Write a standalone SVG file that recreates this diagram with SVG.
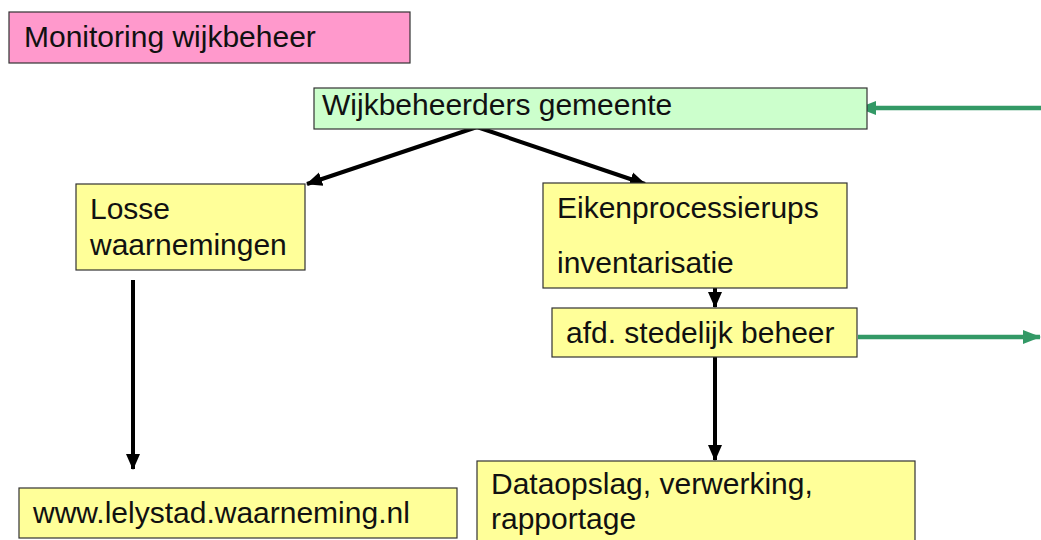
<svg xmlns="http://www.w3.org/2000/svg" width="1041" height="540" viewBox="0 0 1041 540">
  <defs>
    <marker id="ahBlack" markerUnits="userSpaceOnUse" markerWidth="16" markerHeight="16" viewBox="0 0 16 16" refX="15" refY="8" orient="auto">
      <path d="M0,1 L16,8 L0,15 Z" fill="#000"/>
    </marker>
    <marker id="ahGreen" markerUnits="userSpaceOnUse" markerWidth="18" markerHeight="18" viewBox="0 0 18 18" refX="17" refY="9" orient="auto">
      <path d="M0,2 L18,9 L0,16 Z" fill="#339966"/>
    </marker>
  </defs>
  <style>
    .box { stroke: #333; stroke-width: 1.2; }
    .pink { fill: #FF99CC; }
    .green { fill: #CCFFCC; }
    .yellow { fill: #FFFF99; }
    .t { font-family: "Liberation Sans", Arial, sans-serif; font-size: 30px; fill: #111; }
    .blk { stroke: #000; stroke-width: 4; fill: none; marker-end: url(#ahBlack); }
    .grn { stroke: #339966; stroke-width: 4.5; fill: none; marker-end: url(#ahGreen); }
  </style>
  <rect width="1041" height="540" fill="#fff"/>

  <g id="connectors">
    <line class="blk" x1="477" y1="127" x2="307" y2="184"/>
    <line class="blk" x1="477" y1="127" x2="645" y2="184"/>
    <line class="blk" x1="133" y1="280" x2="133" y2="469"/>
    <line class="blk" x1="715" y1="288" x2="715" y2="307"/>
    <line class="blk" x1="715" y1="357" x2="715" y2="460"/>
    <line class="grn" x1="1041" y1="108" x2="859" y2="108"/>
    <line class="grn" x1="858" y1="337" x2="1040" y2="337"/>
  </g>

  <g id="title">
    <rect class="box pink" x="9" y="12" width="401" height="51"/>
    <text class="t" x="24" y="47">Monitoring wijkbeheer</text>
  </g>

  <g id="wijkbeheerders">
    <rect class="box green" x="314" y="88" width="553" height="41"/>
    <text class="t" x="322" y="115">Wijkbeheerders gemeente</text>
  </g>

  <g id="losse">
    <rect class="box yellow" x="76" y="184" width="229" height="86"/>
    <text class="t" x="90" y="219">Losse</text>
    <text class="t" x="90" y="255">waarnemingen</text>
  </g>

  <g id="eiken">
    <rect class="box yellow" x="543" y="183" width="304" height="105"/>
    <text class="t" x="557" y="218">Eikenprocessierups</text>
    <text class="t" x="557" y="273">inventarisatie</text>
  </g>

  <g id="afd">
    <rect class="box yellow" x="552" y="308" width="305" height="49"/>
    <text class="t" x="566" y="343">afd. stedelijk beheer</text>
  </g>

  <g id="dataopslag">
    <rect class="box yellow" x="477" y="461" width="438" height="90"/>
    <text class="t" x="491" y="494">Dataopslag, verwerking,</text>
    <text class="t" x="491" y="529">rapportage</text>
  </g>

  <g id="www">
    <rect class="box yellow" x="19" y="488" width="438" height="50"/>
    <text class="t" x="33" y="523">www.lelystad.waarneming.nl</text>
  </g>
</svg>
